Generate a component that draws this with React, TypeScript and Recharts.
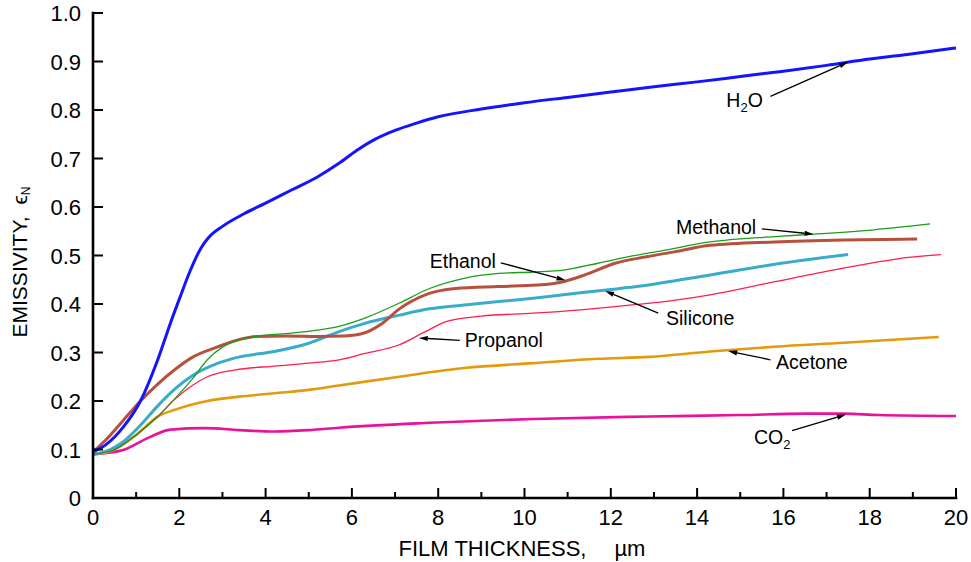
import React from 'react';
import { LineChart, Line, XAxis, YAxis, ReferenceLine, ReferenceDot } from 'recharts';

type Pt = [number, number];

// Normal emissivity vs. film thickness (µm) for each liquid film
const h2o: Pt[] = [
  [0, 0.095], [0.3, 0.11], [0.7, 0.146], [1.1, 0.2], [1.5, 0.285], [1.8, 0.362], [2.0, 0.41],
  [2.25, 0.468], [2.5, 0.515], [2.68, 0.537], [3.0, 0.56], [3.5, 0.586], [4.0, 0.608], [4.6, 0.635],
  [5.2, 0.662], [5.7, 0.69], [6.1, 0.716], [6.5, 0.738], [7.0, 0.758], [7.5, 0.773], [8, 0.786],
  [9, 0.802], [10, 0.815], [11, 0.826], [12, 0.837], [13, 0.848], [14, 0.858], [15, 0.869],
  [16, 0.88], [17, 0.892], [18, 0.905], [19, 0.916], [20, 0.928],
];

const methanol: Pt[] = [
  [0, 0.09], [0.5, 0.1], [1.0, 0.13], [1.5, 0.168], [1.9, 0.205], [2.3, 0.245], [2.65, 0.285],
  [3.0, 0.311], [3.5, 0.328], [3.8, 0.334], [4.6, 0.34], [5.2, 0.346], [5.7, 0.354], [6.3, 0.371],
  [7.1, 0.402], [7.8, 0.432], [8.6, 0.453], [9.4, 0.463], [10.2, 0.466], [10.9, 0.47], [11.7, 0.484],
  [12.5, 0.499], [13.2, 0.51], [14.3, 0.528], [15.8, 0.539], [16.7, 0.544], [18.1, 0.553], [19.4, 0.565],
];

const ethanol: Pt[] = [
  [0, 0.095], [0.3, 0.12], [0.7, 0.16], [1.1, 0.2], [1.5, 0.235], [1.9, 0.265], [2.3, 0.29],
  [2.9, 0.312], [3.4, 0.327], [3.8, 0.333], [4.5, 0.334], [5.2, 0.333], [5.8, 0.334], [6.2, 0.338],
  [6.7, 0.36], [7.1, 0.39], [7.7, 0.419], [8.4, 0.432], [9.4, 0.436], [10.3, 0.439], [10.9, 0.446],
  [11.4, 0.46], [12.1, 0.484], [12.8, 0.497], [13.5, 0.508], [14.3, 0.521], [15.8, 0.528],
  [17.4, 0.532], [19.1, 0.534],
];

const silicone: Pt[] = [
  [0, 0.09], [0.4, 0.1], [0.7, 0.116], [1.1, 0.15], [1.5, 0.19], [1.9, 0.225], [2.3, 0.252],
  [2.9, 0.278], [3.4, 0.291], [4.2, 0.302], [5.0, 0.319], [5.7, 0.343], [6.3, 0.36], [7.1, 0.377],
  [7.8, 0.39], [8.6, 0.398], [9.4, 0.405], [10.2, 0.412], [10.9, 0.419], [11.9, 0.429], [12.7, 0.437],
  [14.3, 0.46], [15.8, 0.482], [17.5, 0.502],
];

const propanol: Pt[] = [
  [0, 0.09], [0.5, 0.1], [1.0, 0.13], [1.5, 0.168], [1.9, 0.204], [2.3, 0.232], [2.65, 0.25],
  [3.3, 0.264], [4.2, 0.272], [5.0, 0.278], [5.7, 0.285], [6.3, 0.298], [7.1, 0.316], [7.7, 0.343],
  [8.2, 0.364], [9.0, 0.375], [10.2, 0.381], [11.3, 0.388], [12.5, 0.398], [13.5, 0.408],
  [14.3, 0.419], [15.8, 0.446], [17.4, 0.474], [18.9, 0.496], [19.65, 0.502],
];

const acetone: Pt[] = [
  [0, 0.09], [0.5, 0.1], [1.0, 0.13], [1.5, 0.168], [1.9, 0.182], [2.6, 0.199], [3.4, 0.209],
  [4.2, 0.216], [5.0, 0.223], [5.7, 0.232], [7.1, 0.25], [8.6, 0.268], [10.2, 0.278], [11.7, 0.287],
  [12.9, 0.291], [14.3, 0.302], [15.8, 0.312], [17.4, 0.32], [19.6, 0.332],
];

const co2: Pt[] = [
  [0, 0.09], [0.7, 0.099], [1.3, 0.125], [1.8, 0.141], [2.6, 0.144], [3.4, 0.14], [4.2, 0.137],
  [5.0, 0.14], [5.7, 0.145], [7.8, 0.155], [10.2, 0.163], [12.9, 0.168], [15, 0.171], [16.5, 0.174],
  [17.4, 0.174], [18.2, 0.171], [20, 0.169],
];

const xTicks = [0, 1, 2, 3, 4, 5, 6, 7, 8, 9, 10, 11, 12, 13, 14, 15, 16, 17, 18, 19, 20];
const yTicks = [0, 0.1, 0.2, 0.3, 0.4, 0.5, 0.6, 0.7, 0.8, 0.9, 1.0];
const yTickLabels = ['0', '0.1', '0.2', '0.3', '0.4', '0.5', '0.6', '0.7', '0.8', '0.9', '1.0'];

const FONT = '"Liberation Sans", Arial, Helvetica, sans-serif';

const series = [
  { id: 'co2', points: co2, color: '#e8129c', width: 2.6 },
  { id: 'acetone', points: acetone, color: '#e39a0c', width: 2.6 },
  { id: 'propanol', points: propanol, color: '#ff1e4e', width: 1.3 },
  { id: 'silicone', points: silicone, color: '#3aaccb', width: 3 },
  { id: 'ethanol', points: ethanol, color: '#b8503e', width: 3 },
  { id: 'methanol', points: methanol, color: '#1a9e1a', width: 1.3 },
  { id: 'h2o', points: h2o, color: '#1414ff', width: 3 },
];

type Seg = [string, boolean];
// Callout text (with subscript flags), text centre, and arrow from/to in data units
const callouts: { id: string; text: Seg[]; at: Pt; from: Pt; to: Pt }[] = [
  { id: 'h2o', text: [['H', false], ['2', true], ['O', false]], at: [15.1, 0.82], from: [15.7, 0.828], to: [17.5, 0.899] },
  { id: 'methanol', text: [['Methanol', false]], at: [14.44, 0.559], from: [15.5, 0.555], to: [16.7, 0.544] },
  { id: 'ethanol', text: [['Ethanol', false]], at: [8.57, 0.489], from: [9.45, 0.485], to: [10.95, 0.449] },
  { id: 'silicone', text: [['Silicone', false]], at: [14.07, 0.371], from: [13.1, 0.381], to: [11.87, 0.427] },
  { id: 'propanol', text: [['Propanol', false]], at: [9.52, 0.326], from: [8.5, 0.325], to: [7.55, 0.33] },
  { id: 'acetone', text: [['Acetone', false]], at: [16.66, 0.28], from: [15.7, 0.285], to: [14.72, 0.303] },
  { id: 'co2', text: [['CO', false], ['2', true]], at: [15.74, 0.126], from: [16.2, 0.139], to: [17.45, 0.172] },
];

const toRows = (pts: Pt[]) => pts.map(([x, y]) => ({ x, y }));

const axisLine = { stroke: '#000', strokeWidth: 2.6, strokeLinecap: 'square' as const };

const BottomTick = (props: any) => {
  const { x, y, payload } = props;
  const v = payload.value;
  const major = v % 2 === 0;
  return (
    <g>
      <line x1={x} x2={x} y1={y} y2={y - (major ? 10 : 6)} stroke="#000" strokeWidth={2} />
      {major && (
        <text x={x} y={y + 27} textAnchor="middle" fontSize={22} fontFamily={FONT} fill="#000">
          {v}
        </text>
      )}
    </g>
  );
};

const TopTick = (props: any) => {
  const { x, y, payload } = props;
  const major = payload.value % 2 === 0;
  return <line x1={x} x2={x} y1={y} y2={y + (major ? 10 : 6)} stroke="#000" strokeWidth={2} />;
};

const LeftTick = (props: any) => {
  const { x, y, index } = props;
  return (
    <g>
      <line x1={x} x2={x + 10} y1={y} y2={y} stroke="#000" strokeWidth={2} />
      <text x={x - 12} y={y + 8} textAnchor="end" fontSize={22} fontFamily={FONT} fill="#000">
        {yTickLabels[index]}
      </text>
    </g>
  );
};

const RightTick = (props: any) => {
  const { x, y } = props;
  return <line x1={x} x2={x - 10} y1={y} y2={y} stroke="#000" strokeWidth={2} />;
};

const Arrow = (props: any) => {
  const { x1, y1, x2, y2 } = props;
  const dx = x2 - x1;
  const dy = y2 - y1;
  const len = Math.hypot(dx, dy) || 1;
  const ux = dx / len;
  const uy = dy / len;
  const head = 9;
  const half = 2.6;
  const bx = x2 - ux * head;
  const by = y2 - uy * head;
  const pts = `${x2},${y2} ${bx - uy * half},${by + ux * half} ${bx + uy * half},${by - ux * half}`;
  return (
    <g>
      <line x1={x1} y1={y1} x2={bx} y2={by} stroke="#000" strokeWidth={1.3} />
      <polygon points={pts} fill="#000" />
    </g>
  );
};

const makeLabel = (text: Seg[]) => (props: any) => {
  const { cx, cy } = props;
  return (
    <text x={cx} y={cy + 7} textAnchor="middle" fontSize={19.5} fontFamily={FONT} fill="#000">
      {text.map(([t, sub], i) => (
        <tspan
          key={i}
          fontSize={sub ? 13 : 19.5}
          dy={sub ? 5 : i > 0 && text[i - 1][1] ? -5 : 0}
        >
          {t}
        </tspan>
      ))}
    </text>
  );
};

export default function App() {
  return (
    <div style={{ position: 'absolute', left: 0, top: 0, width: 971, height: 562, background: '#fff' }}>
      <LineChart
        width={971}
        height={562}
        margin={{ top: 13, right: 15, bottom: 24, left: 33 }}
        style={{ fontFamily: FONT }}
      >
        <XAxis
          xAxisId={0}
          dataKey="x"
          type="number"
          domain={[0, 20]}
          ticks={xTicks}
          interval={0}
          height={40}
          tickSize={0}
          tickMargin={0}
          tickLine={false}
          axisLine={axisLine}
          tick={BottomTick}
        />
        <XAxis
          xAxisId="top"
          orientation="top"
          dataKey="x"
          type="number"
          domain={[0, 20]}
          ticks={xTicks}
          interval={0}
          height={0}
          tickSize={0}
          tickMargin={0}
          tickLine={false}
          axisLine={axisLine}
          tick={TopTick}
        />
        <YAxis
          yAxisId={0}
          type="number"
          domain={[0, 1]}
          ticks={yTicks}
          interval={0}
          width={60}
          tickSize={0}
          tickMargin={0}
          tickLine={false}
          axisLine={axisLine}
          tick={LeftTick}
        />
        <YAxis
          yAxisId="right"
          orientation="right"
          type="number"
          domain={[0, 1]}
          ticks={yTicks}
          interval={0}
          width={0}
          tickSize={0}
          tickMargin={0}
          tickLine={false}
          axisLine={axisLine}
          tick={RightTick}
        />

        {series.map((s) => (
          <Line
            key={s.id}
            data={toRows(s.points)}
            dataKey="y"
            type="monotone"
            stroke={s.color}
            strokeWidth={s.width}
            dot={false}
            activeDot={false}
            isAnimationActive={false}
          />
        ))}

        {callouts.map((c) => (
          <ReferenceLine
            key={`arrow-${c.id}`}
            segment={[
              { x: c.from[0], y: c.from[1] },
              { x: c.to[0], y: c.to[1] },
            ]}
            shape={Arrow}
          />
        ))}
        {callouts.map((c) => (
          <ReferenceDot
            key={`label-${c.id}`}
            x={c.at[0]}
            y={c.at[1]}
            r={0}
            shape={makeLabel(c.text)}
          />
        ))}

        <text x={522} y={556} textAnchor="middle" fontSize={22} fontFamily={FONT} fill="#000">
          <tspan>FILM THICKNESS,</tspan>
          <tspan dx={28}>µm</tspan>
        </text>
        <text
          x={27}
          y={262}
          transform="rotate(-90 27 262)"
          textAnchor="middle"
          fontSize={21}
          fontFamily={FONT}
          fill="#000"
        >
          <tspan>EMISSIVITY,</tspan>
          <tspan dx={12}>ϵ</tspan>
          <tspan fontSize={12} dy={3}>N</tspan>
        </text>
      </LineChart>
    </div>
  );
}
